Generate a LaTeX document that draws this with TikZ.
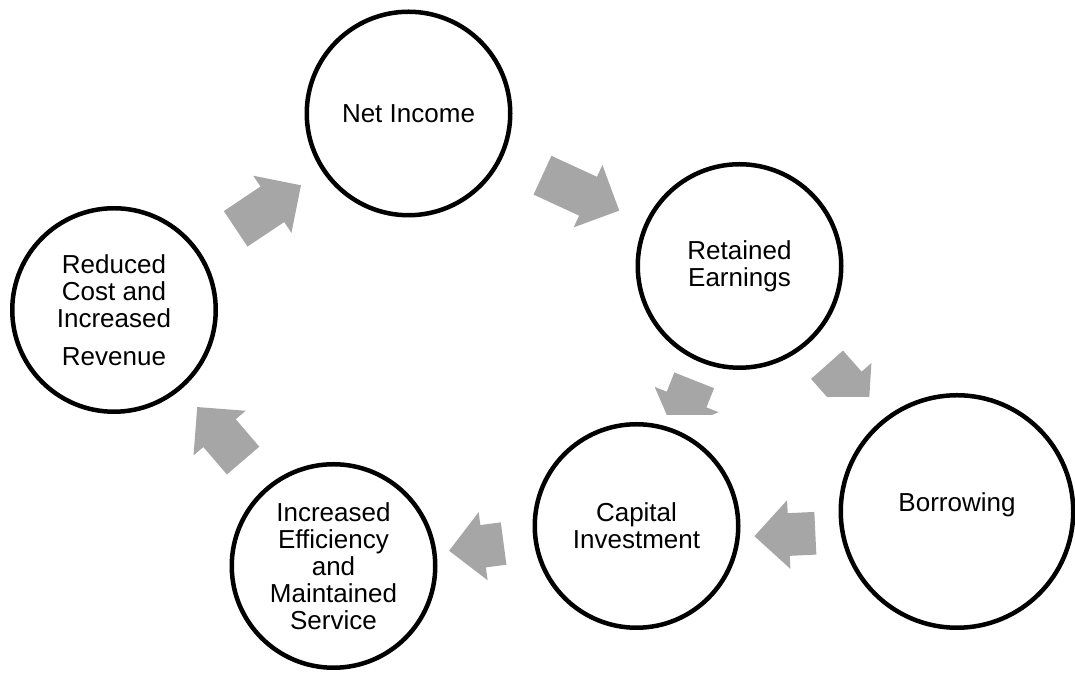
\documentclass[tikz,border=0pt]{standalone}
\usepackage{fontspec}
\setmainfont{Liberation Sans}
\usetikzlibrary{shapes.arrows}

\begin{document}
\begin{tikzpicture}[
  stage/.style={circle, draw, line width=0.09cm, minimum size=4.07cm, align=center,
    font=\fontsize{14.8}{15.4}\selectfont},
  flow/.style={single arrow, draw=none, fill=black!35, sloped, allow upside down,
    inner xsep=0pt, inner ysep=0.42cm, single arrow head extend=0.26cm, minimum width=1.36cm}]
  \useasboundingbox (0,0) rectangle (21.5,13.46);
  % the cycle
  \node[stage] (ni) at (8.17,11.19) {Net Income};
  \node[stage] (re) at (14.79,8.14) {Retained\\Earnings};
  \node[stage, minimum size=4.65cm, text depth=0.37cm] (bo) at (19.14,3.23) {Borrowing};
  \node[stage] (ca) at (12.73,2.94) {Capital\\Investment};
  \node[stage] (ie) at (6.67,2.14) {Increased\\Efficiency\\and\\Maintained\\Service};
  \node[stage] (rc) at (2.28,7.26) {Reduced\\Cost and\\Increased\\[0.22cm]Revenue};
  % block arrows
  \path (rc) -- node[flow, pos=0.485, minimum height=1.57cm] {} (ni);
  \path (ni) -- node[flow, pos=0.48, minimum height=1.69cm] {} (re);
  \begin{scope}
    \clip (0,5.16) rectangle (21.5,13.46);
    \path (re) -- node[flow, pos=0.5, minimum height=1.1cm] {} (ca);
  \end{scope}
  \begin{scope}
    \clip (0,5.52) rectangle (21.5,13.46);
    \path (re) -- node[flow, pos=0.46, minimum height=1.25cm] {} (bo);
  \end{scope}
  \path (bo.190) -- node[flow, pos=0.446, minimum height=1.22cm] {} (ca.-6);
  \path (ca) -- node[flow, pos=0.48, minimum height=1.1cm] {} (ie);
  \path (ie) -- node[flow, pos=0.46, minimum height=1.41cm] {} (rc);
\end{tikzpicture}
\end{document}
